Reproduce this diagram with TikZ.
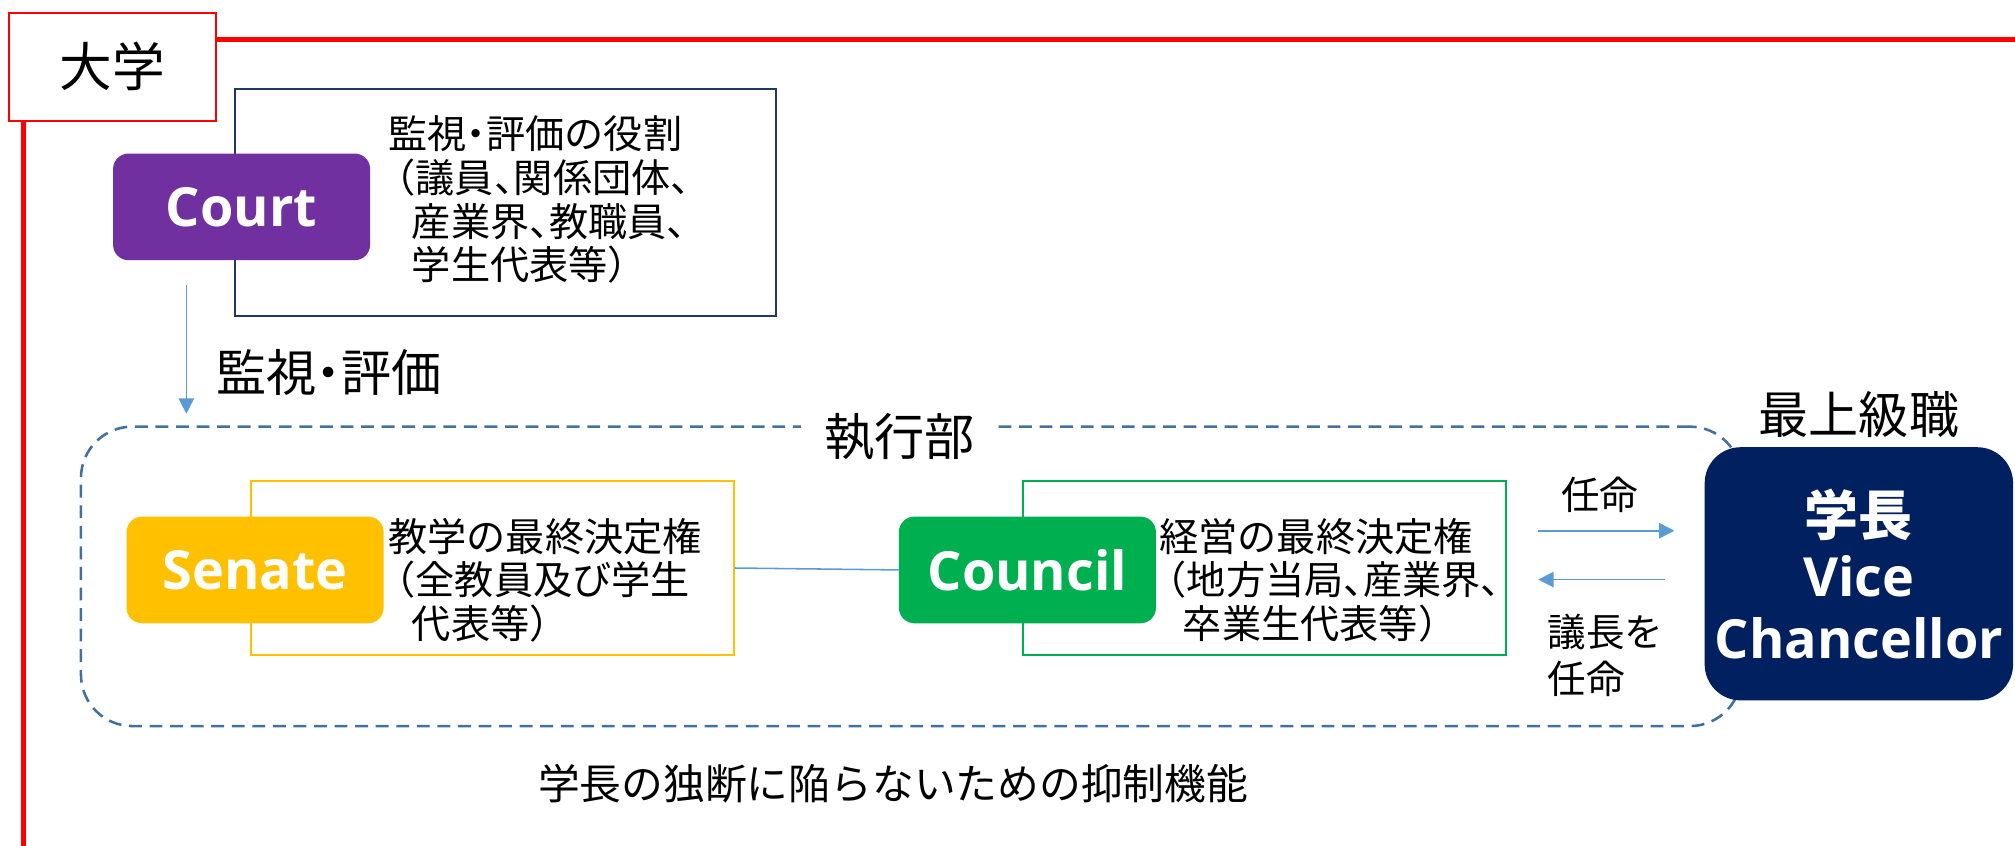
\documentclass[tikz,border=0pt]{standalone}
\usepackage{fontspec}
\setmainfont{Noto Sans CJK JP}[RawFeature={+halt}]
\newfontfamily\latin{Open Sans}
\usetikzlibrary{positioning,arrows.meta}
\definecolor{courtc}{HTML}{7030A0}
\definecolor{senatec}{HTML}{FFC000}
\definecolor{councilc}{HTML}{00B050}
\definecolor{vcc}{HTML}{002060}
\definecolor{navyc}{HTML}{203864}
\definecolor{linkc}{HTML}{5B9BD5}
\definecolor{execc}{HTML}{41719C}

\begin{document}
\begin{tikzpicture}[x=1pt, y=-1pt,
  org/.style = {rounded corners=12pt, minimum width=200pt, minimum height=83pt, text=white, font=\latin\bfseries\fontsize{42}{48}\selectfont},
  desc/.style = {draw, line width=1.5pt, fill=white, minimum width=376pt, minimum height=136pt},
  txt/.style = {align=left, anchor=west, inner sep=0pt, font=\fontsize{30.5}{34}\selectfont},
  lbl/.style = {inner sep=0pt, font=\fontsize{30}{36}\selectfont},
  big/.style = {inner sep=0pt, font=\fontsize{39}{44}\selectfont},
  link/.style = {draw=linkc, line width=1.2pt},
  arr/.style = {link, -{Triangle[length=12pt, width=12pt]}}]
  \useasboundingbox (0,0) rectangle (1568,658);

  \node[draw=red, line width=1.5pt, fill=white, minimum width=161pt, minimum height=84pt, font=\fontsize{41}{48}\selectfont] (univ) at (87.5,52) {大学};
  \coordinate (redE) at (1568,31);
  \coordinate (redS) at (18,658);
  \draw[red, line width=4pt] (univ.east |- redE) -- (redE);
  \draw[red, line width=4pt] (univ.south -| redS) -- (redS);

  \node[desc, draw=navyc, minimum width=421pt, minimum height=177pt] (courtdesc) at (393.5,157.5) {};
  \node[org, fill=courtc] (court) at (188,161) {Court};
  \node[txt] (courttxt) at (302,155.5) {監視・評価の役割\\\hspace{0.2em}（議員、関係団体、\\\hspace{0.6em}産業界、教職員、\\\hspace{0.6em}学生代表等）};
  \coordinate (monA) at (145,222);
  \coordinate (monB) at (145,322);
  \draw[arr] (monA) -- (monB);
  \node[big, anchor=west] (monlbl) at (168,290) {監視・評価};

  \node[draw=execc, dash pattern=on 10pt off 6pt, line width=2pt, rounded corners=40pt, minimum width=1292pt, minimum height=233pt] (exec) at (709,448.5) {};
  \node[big, fill=white, inner xsep=18pt, inner ysep=2pt] (execlbl) at (700,340) {執行部};

  \node[desc, draw=senatec] (senatedesc) at (383,442) {};
  \node[org, fill=senatec] (senate) at (198.5,443.5) {Senate};
  \node[txt] (senatetxt) at (302,451.5) {教学の最終決定権\\\hspace{0.2em}（全教員及び学生\\\hspace{0.6em}代表等）};

  \node[desc, draw=councilc] (councildesc) at (984,442) {};
  \node[org, fill=councilc] (council) at (799.5,443.5) {Council};
  \node[txt] (counciltxt) at (902,451.5) {経営の最終決定権\\\hspace{0.2em}（地方当局、産業界、\\\hspace{0.6em}卒業生代表等）};
  \draw[link] (senatedesc.east) -- (council.west);

  \node[fill=vcc, rounded corners=28pt, minimum width=240pt, minimum height=197pt, text=white, align=center, font=\bfseries\fontsize{42}{48}\selectfont] (vc) at (1446.5,446.5) {学長\\{\latin Vice}\\{\latin Chancellor}};
  \node[big, above=7pt of vc] (toplbl) {最上級職};

  \coordinate (appA) at (1197,413);
  \coordinate (appB) at (1303,413);
  \coordinate (chairA) at (1296,451);
  \coordinate (chairB) at (1197,451);
  \draw[arr] (appA) -- (appB);
  \draw[arr] (chairA) -- (chairB);
  \node[lbl] (applbl) at (1245,385) {任命};
  \node[lbl, align=left, anchor=west] (chairlbl) at (1204,510) {議長を\\任命};

  \node[font=\fontsize{32.5}{38}\selectfont, inner sep=0pt] (note) at (695,610) {学長の独断に陥らないための抑制機能};
\end{tikzpicture}
\end{document}
